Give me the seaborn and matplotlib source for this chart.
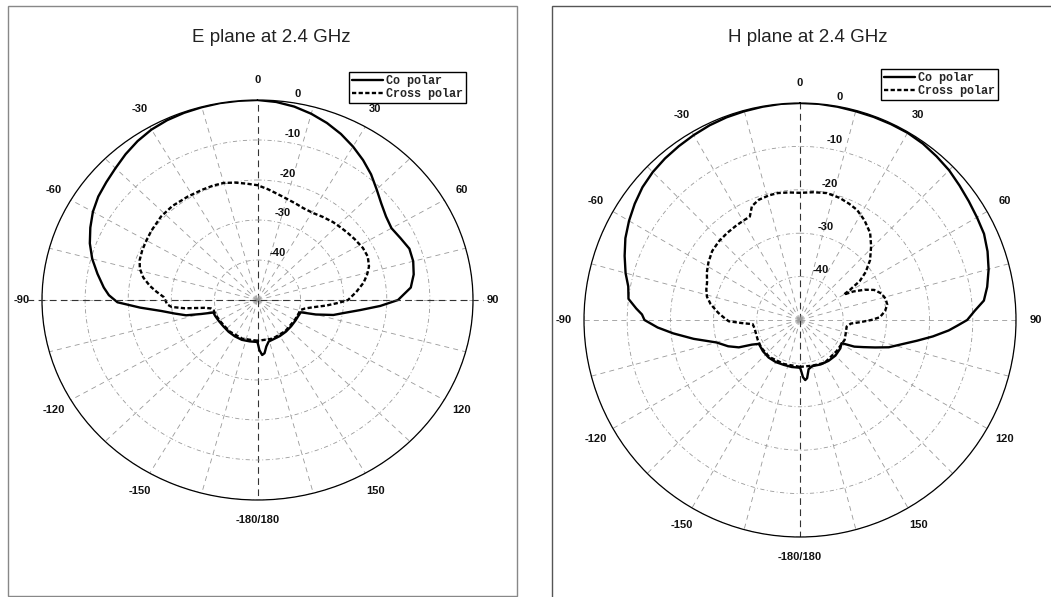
import numpy as np
import matplotlib.pyplot as plt
import seaborn as sns
from matplotlib.patches import Rectangle
from matplotlib.lines import Line2D

# ---- E plane (angle in degrees, level in dB) --------------------------------
e_co_ang = [-180, -170, -160, -150, -140, -130, -120, -112, -107, -105, -103, -100,
            -97, -94, -91, -88, -85, -80, -75, -70, -65, -60, -55, -50, -45, -40,
            -35, -30, -25, -20, -15, -10, -5, 0, 5, 10, 15, 20, 25, 30, 35, 40, 45,
            50, 55, 60, 65, 70, 75, 80, 85, 90, 93, 96, 99, 102, 105, 107, 112, 120,
            130, 140, 150, 160, 166, 170, 173, 175.5, 178, 180]
e_co_db = [-39.5, -39.5, -39.4, -39.5, -39.6, -39.7, -39.6, -39.4, -39.3, -36.5, -33.0, -30.5,
           -27.5, -22.7, -17.5, -15.5, -14.2, -12.3, -10.3, -8.6, -7.2, -5.9, -4.9, -4.2, -3.4, -2.4,
           -1.5, -0.8, -0.4, -0.2, -0.1, 0.0, 0.0, 0.0, -0.3, -0.9, -1.8, -2.9, -4.2, -5.7, -7.3, -9.0, -10.9,
           -12.5, -13.6, -14.1, -13.4, -12.5, -12.6, -13.2, -14.3, -17.4, -21.5, -26.0, -29.5, -32.0, -36.0, -39.5, -39.7, -39.8,
           -39.8, -39.7, -39.6, -39.5, -39.3, -38.2, -36.6, -36.2, -37.5, -39.5]

e_x_ang = [-180, -160, -140, -120, -110, -104, -101, -99, -97, -95, -93, -90, -88, -85,
           -82, -78, -74, -70, -65, -61, -55, -47, -40, -32, -25, -20, -15, -10, -5, 0,
           5, 10, 15, 20, 25, 31, 36, 42, 47, 51, 56, 62, 67, 72, 76, 80, 85, 90, 92,
           95, 98, 101, 104, 110, 120, 140, 160, 180]
e_x_db = [-39.8, -39.7, -39.8, -39.8, -39.6, -39.5, -39.0, -37.5, -33.0, -30.0, -29.0, -28.6, -28.2, -26.5,
          -24.8, -22.9, -21.6, -20.9, -20.5, -20.3, -19.9, -19.4, -19.3, -19.5, -19.6, -19.6, -19.7, -20.2, -20.8, -21.3,
          -22.2, -23.1, -23.8, -24.3, -24.7, -24.7, -24.3, -23.8, -23.5, -23.2, -22.8, -22.3, -22.2, -22.8, -23.8, -25.0, -27.0, -29.0, -31.0,
          -34.0, -37.0, -38.8, -39.7, -39.9, -40.0, -39.9, -39.7, -39.8]

# ---- H plane ----------------------------------------------------------------
h_co_ang = [-180, -170, -160, -150, -140, -130, -120, -117, -114, -110, -105, -100, -96,
            -93, -90, -88, -86, -83, -79, -75, -70, -65, -60, -55, -50, -45, -40, -35,
            -30, -25, -20, -15, -10, -5, 0, 5, 10, 15, 20, 25, 30, 35, 40, 45, 50, 55,
            60, 65, 70, 75, 80, 84, 87, 90, 92, 94, 97, 100, 103, 107, 110, 113, 116,
            119, 125, 135, 145, 155, 165, 170, 173, 175, 177, 179, 180]
h_co_db = [-39.0, -39.0, -39.0, -38.8, -38.7, -38.8, -39.0, -37.5, -34.5, -32.3, -30.0, -25.0, -20.5,
           -17.0, -14.0, -13.4, -12.0, -10.0, -9.5, -8.2, -6.8, -5.4, -4.3, -3.3, -2.4, -1.8, -1.4, -1.1,
           -0.8, -0.5, -0.3, -0.2, -0.1, 0.0, 0.0, 0.0, -0.1, -0.2, -0.2, -0.2, -0.2, -0.4, -0.8, -1.2, -1.8, -2.3,
           -2.7, -3.0, -3.8, -4.8, -6.0, -7.2, -9.5, -11.3, -13.5, -15.5, -19.0, -22.5, -25.5, -28.5, -31.5, -34.0, -36.0,
           -39.0, -38.6, -38.4, -38.5, -38.7, -39.0, -38.5, -36.5, -36.1, -36.8, -38.5, -39.0]

h_x_ang = [-180, -160, -140, -125, -115, -111, -100, -95, -93, -91, -88, -85, -80, -76,
           -72, -68, -63, -58, -52, -46, -40, -34, -29, -26, -23, -19, -14, -10, -5, 0,
           6, 12, 18, 23, 27.5, 33, 39, 44, 49.6, 54, 57, 59, 60, 62, 65, 68, 72, 76,
           80, 84, 88, 90, 92, 94, 98, 105, 114, 120, 130, 150, 165, 180]
h_x_db = [-39.2, -39.2, -38.9, -39.0, -39.2, -39.3, -39.3, -39.0, -36.5, -33.5, -32.3, -31.0, -29.0, -27.8,
          -27.2, -26.8, -25.8, -25.0, -24.2, -23.9, -23.8, -23.7, -23.6, -23.5, -21.5, -20.7, -20.4, -20.3, -20.5, -20.7,
          -20.4, -20.1, -20.4, -20.9, -21.4, -22.6, -24.2, -26.3, -28.7, -31.2, -33.5, -36.5, -38.3, -36.0, -33.5, -31.5, -30.2, -29.6,
          -29.5, -30.2, -31.5, -33.5, -36.0, -38.2, -39.1, -39.0, -38.7, -38.9, -38.9, -38.6, -39.1, -39.2]

ring_levels = [-40, -30, -20, -10, 0]
ring_labels = ['-40', '-30', '-20', '-10', '0']
angle_ticks = list(range(0, 360, 15))
angle_names = {0: '0', 30: '30', 60: '60', 90: '90', 120: '120', 150: '150',
               180: '-180/180', 210: '-150', 240: '-120', 270: '-90', 300: '-60', 330: '-30'}

sns.set_theme(style="white")
plt.rcParams['font.family'] = ['Liberation Sans', 'DejaVu Sans']

W, H = 1051, 597
fig = plt.figure(figsize=(W / 100, H / 100), dpi=100)


def panel(box, title, title_xy, leg_xy, co, cross, axis_line):
    x0, y0, x1, y1 = box   # pixel box of the outer circle (top-left origin)
    ax = fig.add_axes([x0 / W, 1 - y1 / H, (x1 - x0) / W, (y1 - y0) / H], projection='polar')
    ax.set_aspect('auto')
    ax.set_theta_zero_location('N')
    ax.set_theta_direction(-1)

    sns.lineplot(x=np.deg2rad(co[0]), y=co[1], sort=False, estimator=None, ax=ax,
                 color='black', lw=1.7, label='Co polar')
    sns.lineplot(x=np.deg2rad(cross[0]), y=cross[1], sort=False, estimator=None, ax=ax,
                 color='black', lw=1.7, linestyle=(0, (1.8, 1.0)), label='Cross polar')

    ax.set_ylim(-50, 0)
    ax.set_yticks(ring_levels)
    ax.set_yticklabels([])
    ax.set_thetagrids(angle_ticks, [angle_names.get(a, '') for a in angle_ticks],
                      fontsize=8, fontweight='bold', color='#111')
    ax.tick_params(axis='x', pad=7.5, length=0)
    ax.grid(True)
    for t in ax.yaxis.get_major_ticks():
        t.gridline.set(color='#999', lw=0.6, linestyle=(0, (5, 3, 1, 3)))
    for i, t in enumerate(ax.xaxis.get_major_ticks()):
        t.gridline.set(color='#999', lw=0.6, linestyle=(0, (6, 5)))
        if angle_ticks[i] in (0, 180):
            t.gridline.set(color='#333', lw=0.8, linestyle=(0, (6, 4)))
    ax.spines['polar'].set(color='black', lw=0.9)

    for lv, lab in zip(ring_levels, ring_labels):
        ax.annotate(lab, xy=(np.deg2rad(6.3), lv), xytext=(16, 7), textcoords='offset pixels',
                    ha='center', va='center', fontsize=8, fontweight='bold', color='#111')

    if axis_line:
        cy = 1 - (y0 + y1) / 2 / H
        fig.add_artist(Line2D([27 / W, 483 / W], [cy, cy], transform=fig.transFigure,
                              color='#333', lw=0.8, linestyle=(0, (6, 4))))

    leg = ax.legend(loc='upper right', bbox_to_anchor=(leg_xy[0] / W, 1 - leg_xy[1] / H),
                    bbox_transform=fig.transFigure, borderaxespad=0,
                    prop={'family': 'Liberation Mono', 'weight': 'bold', 'size': 8.5},
                    frameon=True, fancybox=False, framealpha=1, edgecolor='black',
                    handlelength=2.6, handletextpad=0.3, borderpad=0.25, labelspacing=0.12)
    leg.get_frame().set_linewidth(1.0)

    fig.text(title_xy[0] / W, 1 - title_xy[1] / H, title, ha='center', va='center',
             fontsize=13.5, color='#222')
    return ax


panel((42, 100, 473, 500), 'E plane at 2.4 GHz', (271, 38), (466, 72),
      (e_co_ang, e_co_db), (e_x_ang, e_x_db), True)
panel((584, 103, 1016, 537), 'H plane at 2.4 GHz', (808, 37), (998, 69),
      (h_co_ang, h_co_db), (h_x_ang, h_x_db), False)

fig.add_artist(Rectangle((7.5 / W, 1.5 / H), 509 / W, 589.5 / H, transform=fig.transFigure,
                         fill=False, ec='#888', lw=1.0))
fig.add_artist(Rectangle((552 / W, -0.05), 0.6, 1 - 6 / H + 0.05, transform=fig.transFigure,
                         fill=False, ec='#555', lw=1.0))

fig.savefig('out.png', dpi=100)
